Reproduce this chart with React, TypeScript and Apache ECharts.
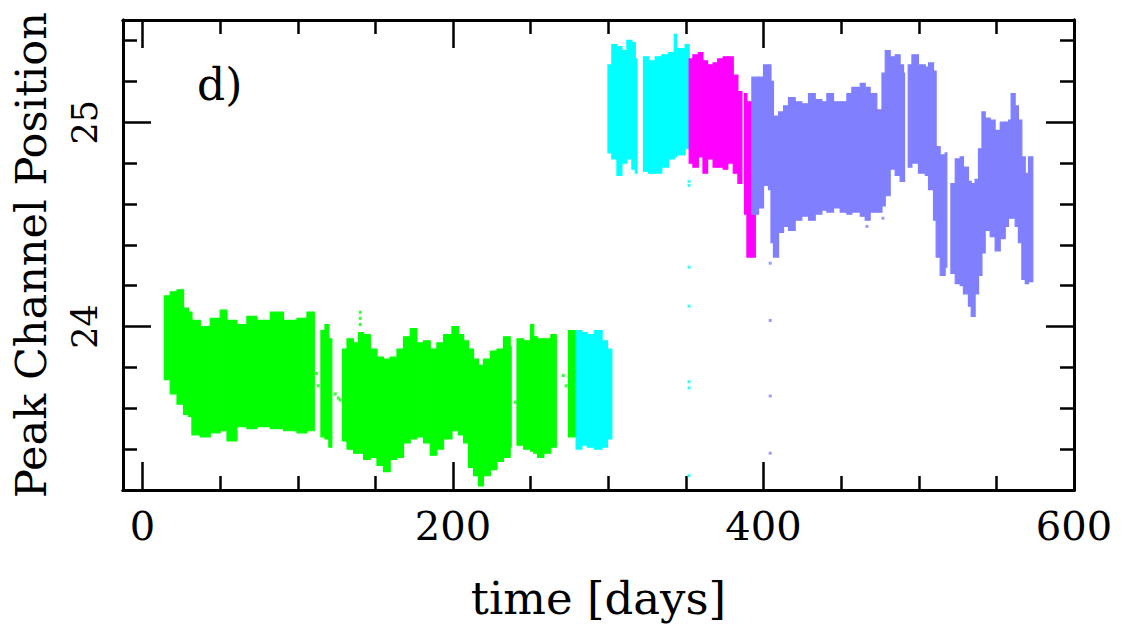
import React, { useEffect, useRef } from "react";
import * as echarts from "echarts";

// ---- axis ranges and ticks ----
const X_MIN = -12.6;
const X_MAX = 600;
const Y_MIN = 23.2;
const Y_MAX = 25.5;
const xMajor = [0, 200, 400, 600];
const xMinor = [50, 100, 150, 250, 300, 350, 450, 500, 550];
const yMajor = [24, 25];
const yMinor = [23.4, 23.6, 23.8, 24.2, 24.4, 24.6, 24.8, 25.2, 25.4];

// ---- band envelopes: [time, low, high]; each row spans until the next row's time ----
const green1 = [
  [14.0, 23.74, 24.15], [17.8, 23.67, 24.17], [22.2, 23.62, 24.18], [26.4, 23.57, 24.09],
  [29.6, 23.56, 24.07], [31.8, 23.47, 24.03], [37.2, 23.46, 24.0], [43.6, 23.48, 24.04],
  [50.0, 23.49, 24.08], [54.4, 23.44, 24.03], [60.8, 23.51, 24.01], [67.2, 23.5, 24.05],
  [73.7, 23.51, 24.03], [82.3, 23.5, 24.07], [90.8, 23.49, 24.03], [99.5, 23.48, 24.04],
  [105.9, 23.49, 24.07], [110.6, 23.49, 24.07],
];
const green2 = [[114.9, 23.46, 23.98], [117.5, 23.45, 24.01], [120.0, 23.41, 23.94], [121.9, 23.41, 23.94]];
const green3 = [
  [128.8, 23.44, 23.89], [131.7, 23.4, 23.94], [135.9, 23.38, 23.92], [139.1, 23.38, 23.97],
  [142.4, 23.35, 23.96], [146.7, 23.36, 23.89], [151.0, 23.32, 23.85], [155.2, 23.29, 23.84],
  [159.5, 23.35, 23.85], [163.9, 23.36, 23.89], [168.1, 23.43, 23.95], [172.4, 23.45, 23.99],
  [176.7, 23.46, 23.92], [181.0, 23.43, 23.93], [185.3, 23.37, 23.89], [189.6, 23.4, 23.92],
  [193.9, 23.45, 23.96], [199.3, 23.49, 24.0], [203.5, 23.47, 23.96], [206.8, 23.43, 23.93],
  [210.0, 23.31, 23.89], [213.2, 23.27, 23.84], [216.4, 23.22, 23.81], [219.6, 23.27, 23.84],
  [224.0, 23.3, 23.88], [228.3, 23.34, 23.89], [232.5, 23.36, 23.95], [236.8, 23.41, 23.9],
  [237.3, 23.41, 23.9],
];
const green4 = [
  [241.2, 23.42, 23.94], [245.5, 23.4, 23.93], [250.0, 23.39, 24.01], [252.0, 23.38, 23.95],
  [254.5, 23.36, 23.94], [258.5, 23.38, 23.94], [263.0, 23.41, 23.96], [266.5, 23.41, 23.96],
];
const green5 = [[274.4, 23.46, 23.98], [279.3, 23.46, 23.98]];
const cyanLow = [
  [279.3, 23.4, 23.98], [283.0, 23.42, 23.97], [286.5, 23.41, 23.96], [291.0, 23.4, 23.98],
  [296.0, 23.41, 23.93], [299.5, 23.45, 23.89], [302.3, 23.45, 23.89],
];
const cyanHighA = [
  [299.8, 24.85, 25.28], [302.3, 24.82, 25.38], [305.6, 24.74, 25.37], [308.8, 24.8, 25.35],
  [312.0, 24.82, 25.4], [315.2, 24.77, 25.39], [317.4, 24.75, 25.31], [318.5, 24.75, 25.31],
];
const cyanHighB = [
  [322.7, 24.76, 25.32], [326.0, 24.75, 25.3], [330.2, 24.75, 25.32], [334.5, 24.78, 25.33],
  [338.8, 24.82, 25.34], [342.5, 24.83, 25.43], [344.0, 24.84, 25.36], [349.5, 24.87, 25.38],
  [352.1, 24.87, 25.38],
];
const magentaA = [
  [352.1, 24.8, 25.31], [354.5, 24.78, 25.33], [358.0, 24.83, 25.34], [361.0, 24.75, 25.3],
  [364.0, 24.82, 25.28], [367.5, 24.78, 25.29], [370.5, 24.78, 25.31], [374.0, 24.77, 25.32],
  [377.0, 24.8, 25.32], [380.5, 24.75, 25.23], [383.5, 24.7, 25.15], [386.1, 24.7, 25.15],
];
const magentaB = [[387.8, 24.55, 25.14], [389.3, 24.34, 25.1], [394.7, 24.34, 25.1]];
const purpleA = [
  [392.5, 24.55, 25.22], [396.8, 24.58, 25.22], [400.0, 24.69, 25.28], [403.2, 24.67, 25.28],
  [404.8, 24.41, 25.2], [406.4, 24.34, 25.03], [409.7, 24.46, 25.05], [412.9, 24.49, 25.08],
  [416.1, 24.47, 25.12], [420.4, 24.52, 25.1], [424.7, 24.54, 25.09], [429.0, 24.52, 25.14],
  [433.3, 24.55, 25.11], [437.6, 24.57, 25.1], [440.8, 24.56, 25.14], [445.1, 24.58, 25.1],
  [449.4, 24.56, 25.1], [453.7, 24.55, 25.14], [456.9, 24.56, 25.17], [462.3, 24.54, 25.19],
  [465.5, 24.52, 25.17], [468.7, 24.56, 25.14], [473.0, 24.56, 25.06], [476.3, 24.59, 25.24],
  [478.4, 24.64, 25.35], [481.6, 24.77, 25.32], [484.8, 24.74, 25.33], [488.0, 24.71, 25.28],
  [490.2, 24.71, 25.24], [490.6, 24.71, 25.24],
];
const purpleB = [
  [493.2, 24.78, 25.28], [495.6, 24.8, 25.33], [499.8, 24.75, 25.28], [504.2, 24.74, 25.27],
  [506.3, 24.67, 25.29], [509.5, 24.52, 25.25], [511.2, 24.34, 24.88], [513.8, 24.25, 24.84],
  [517.0, 24.29, 24.85], [518.1, 24.29, 24.85],
];
const purpleC = [
  [520.7, 24.26, 24.7], [523.5, 24.21, 24.82], [526.7, 24.2, 24.83], [528.8, 24.16, 24.78],
  [532.0, 24.1, 24.71], [533.8, 24.05, 24.7], [536.3, 24.16, 24.72], [538.5, 24.25, 24.87],
  [540.7, 24.36, 25.05], [542.8, 24.47, 25.02], [546.0, 24.44, 25.01], [549.2, 24.37, 24.96],
  [552.5, 24.43, 25.0], [555.7, 24.49, 25.0], [557.8, 24.53, 25.01], [559.5, 24.53, 25.14],
  [562.1, 24.49, 25.08], [564.2, 24.41, 25.01], [566.4, 24.23, 24.83], [568.6, 24.21, 24.75],
  [570.7, 24.22, 24.83], [573.5, 24.22, 24.83],
];

// ---- isolated points: [time, value] ----
const greenPts = [
  [111.9, 23.77], [113.2, 23.71], [124.1, 23.67], [126.1, 23.65], [127.3, 23.64],
  [140.2, 24.07], [140.2, 24.04], [140.2, 24.01], [240.1, 23.63], [271.0, 23.76], [272.9, 23.71],
];
const cyanPts = [
  [352.0, 24.71], [352.0, 24.69], [352.0, 24.29], [352.0, 24.1], [352.0, 23.73], [352.0, 23.7], [352.0, 23.27],
];
const purplePts = [[404.3, 24.31], [404.3, 24.03], [404.3, 23.66], [404.3, 23.38], [466.6, 24.49], [476.9, 24.53]];

const GREEN = "#00ff00";
const CYAN = "#00ffff";
const MAGENTA = "#ff00ff";
const PURPLE = "#8080ff";
const FONT = "DejaVu Serif";

function toRects(segs: number[][][]) {
  const out: number[][] = [];
  for (const s of segs) {
    for (let i = 0; i < s.length - 1; i++) out.push([s[i][0], s[i + 1][0], s[i][1], s[i][2]]);
  }
  return out;
}

function band(name: string, segs: number[][][], color: string) {
  return {
    type: "custom",
    name,
    data: toRects(segs),
    encode: { x: [0, 1], y: [2, 3] },
    clip: true,
    silent: true,
    renderItem: (_p: any, api: any) => {
      const a = api.coord([api.value(0), api.value(3)]);
      const b = api.coord([api.value(1), api.value(2)]);
      return {
        type: "rect",
        shape: { x: a[0], y: a[1], width: Math.max(b[0] - a[0], 1), height: b[1] - a[1] },
        style: { fill: color, stroke: color, lineWidth: 1.2 },
      };
    },
  };
}

function pts(name: string, data: number[][], color: string) {
  return {
    type: "scatter",
    name,
    data,
    symbol: "rect",
    symbolSize: 3,
    silent: true,
    itemStyle: { color },
  };
}

const tickStyle = { color: "#000", width: 2.5 };
const lineStyle = { color: "#000", width: 3 };

function xAxis(position: string, ticks: number[], len: number, withLabels: boolean) {
  return {
    type: "value",
    position,
    min: X_MIN,
    max: X_MAX,
    axisLine: { show: true, onZero: false, lineStyle },
    axisTick: { show: true, inside: true, length: len, customValues: ticks, lineStyle: tickStyle },
    axisLabel: withLabels
      ? { show: true, customValues: ticks, color: "#000", fontFamily: FONT, fontSize: 40, margin: 16 }
      : { show: false, customValues: ticks },
    splitLine: { show: false },
    ...(withLabels
      ? {
          name: "time [days]",
          nameLocation: "middle",
          nameGap: 86,
          nameTextStyle: { color: "#000", fontFamily: FONT, fontSize: 45 },
        }
      : {}),
  };
}

function yAxis(position: string, ticks: number[], len: number, withLabels: boolean) {
  return {
    type: "value",
    position,
    min: Y_MIN,
    max: Y_MAX,
    axisLine: { show: true, onZero: false, lineStyle },
    axisTick: { show: true, inside: true, length: len, customValues: ticks, lineStyle: tickStyle },
    axisLabel: withLabels
      ? { show: true, customValues: ticks, rotate: 90, color: "#000", fontFamily: FONT, fontSize: 35, margin: 21 }
      : { show: false, customValues: ticks },
    splitLine: { show: false },
    ...(withLabels
      ? {
          name: "Peak Channel Position",
          nameLocation: "middle",
          nameRotate: 90,
          nameGap: 71,
          nameTextStyle: { color: "#000", fontFamily: FONT, fontSize: 43 },
        }
      : {}),
  };
}

export default function App() {
  const ref = useRef<HTMLDivElement>(null);
  useEffect(() => {
    if (!ref.current) return;
    const chart = echarts.init(ref.current, undefined, { renderer: "svg" });
    chart.setOption({
      animation: false,
      backgroundColor: "#fff",
      grid: { left: 123, right: 62, top: 20, bottom: 148, containLabel: false, outerBoundsMode: "none" },
      xAxis: [
        xAxis("bottom", xMajor, 28, true),
        xAxis("bottom", xMinor, 14, false),
        xAxis("top", xMajor, 28, false),
        xAxis("top", xMinor, 14, false),
      ],
      yAxis: [
        yAxis("left", yMajor, 28, true),
        yAxis("left", yMinor, 14, false),
        yAxis("right", yMajor, 28, false),
        yAxis("right", yMinor, 14, false),
      ],
      graphic: [
        {
          type: "text",
          left: 197,
          top: 62,
          style: { text: "d)", fontFamily: FONT, fontSize: 44, fill: "#000" },
        },
      ],
      series: [
        band("green", [green1, green2, green3, green4, green5], GREEN),
        pts("green points", greenPts, GREEN),
        band("cyan", [cyanLow, cyanHighA, cyanHighB], CYAN),
        pts("cyan points", cyanPts, CYAN),
        band("magenta", [magentaA, magentaB], MAGENTA),
        band("purple", [purpleA, purpleB, purpleC], PURPLE),
        pts("purple points", purplePts, PURPLE),
      ],
    });
    return () => chart.dispose();
  }, []);
  return (
    <div
      ref={ref}
      style={{ position: "fixed", left: 0, top: 0, width: 1136, height: 638, background: "#fff" }}
    />
  );
}
